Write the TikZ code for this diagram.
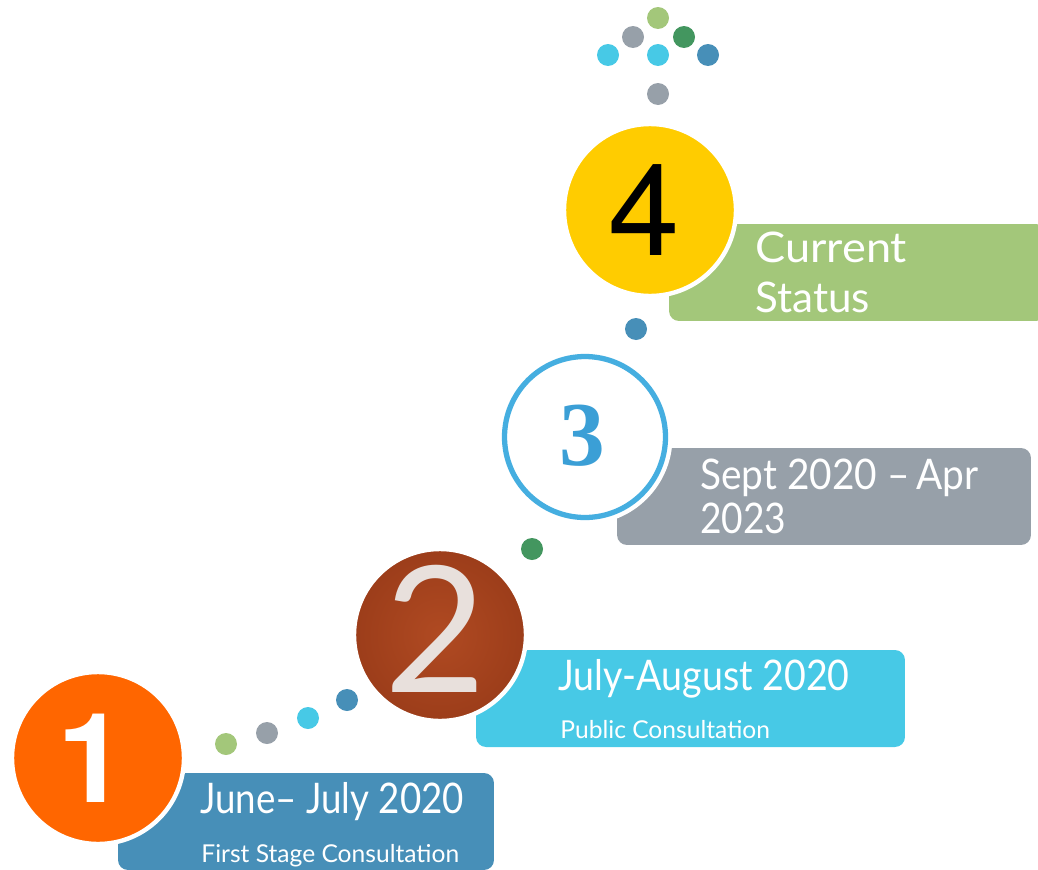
\documentclass[tikz,border=0pt]{standalone}
\usepackage{fontspec}
\setmainfont{Lato}
\newfontfamily\digitsans{TeX Gyre Heros}
\newfontfamily\digitserif{Liberation Serif}
\definecolor{stepblue}{HTML}{478FB8}
\definecolor{stepcyan}{HTML}{47C9E6}
\definecolor{stepgrey}{HTML}{97A0A9}
\definecolor{stepgreen}{HTML}{A3C77A}
\definecolor{darkgreen}{HTML}{43965F}
\definecolor{orange1}{HTML}{FF6600}
\definecolor{brown2}{HTML}{B04A22}
\definecolor{brown2dark}{HTML}{9C3D1A}
\definecolor{ring3}{HTML}{45AEE0}
\definecolor{digit3}{HTML}{3B9FD6}
\definecolor{yellow4}{HTML}{FFCC00}
\definecolor{digit2}{HTML}{E8E0DC}
\newcommand{\narrow}[2]{\scalebox{#1}[1]{#2}}

\begin{document}
\begin{tikzpicture}[x=0.02cm,y=-0.02cm,
  dot/.style={circle,inner sep=0pt,minimum size=0.44cm},
  band/.style={rounded corners=0.2cm,inner sep=0pt,minimum height=1.94cm},
  stage/.style={circle,inner sep=0pt,minimum size=3.44cm,draw=white,line width=2.5pt},
  big/.style={anchor=base west,inner sep=0pt,text=white,font=\fontsize{24}{28}\selectfont},
  small/.style={anchor=base west,inner sep=0pt,text=white,font=\fontsize{14}{16}\selectfont}]
\useasboundingbox (0,0) rectangle (1038,869);
\clip (0,0) rectangle (1038,869);

\node[band,fill=stepblue,minimum width=7.52cm] (b1) at (306,821.5) {};
\node[band,fill=stepcyan,minimum width=8.58cm] (b2) at (690.5,698.5) {};
\node[band,fill=stepgrey,minimum width=8.28cm] (b3) at (824,496.5) {};
\node[band,fill=stepgreen,minimum width=7.54cm] (b4) at (857.5,272.5) {}; % runs off the right edge

\node[big] (t1) at (200,813) {\narrow{0.87}{June– July 2020}};
\node[small] (s1) at (201,862) {First Stage Consultation};
\node[big] (t2) at (558,690) {\narrow{0.89}{July-August 2020}};
\node[small] (s2) at (560,738) {Public Consultation};
\node[big] (t3) at (700,489) {\narrow{0.92}{Sept 2020 –\,Apr}};
\node[big] (t3b) at (700,533) {\narrow{0.88}{2023}};
\node[big] (t4) at (755,262) {\narrow{1.07}{Current}};
\node[big] (t4b) at (755,312) {Status};

% dots between the stages
\node[dot,fill=stepgreen] (d1) at (226,744) {};
\node[dot,fill=stepgrey] (d2) at (267,733) {};
\node[dot,fill=stepcyan] (d3) at (308,718) {};
\node[dot,fill=stepblue] (d4) at (347,700) {};
\node[dot,fill=darkgreen] (d5) at (532,549) {};
\node[dot,fill=stepblue] (d6) at (636,329) {};
% arrow of dots on top
\node[dot,fill=stepgrey] (a1) at (658,94) {};
\node[dot,fill=stepcyan] (a2) at (608,55) {};
\node[dot,fill=stepcyan] (a3) at (658,55) {};
\node[dot,fill=stepblue] (a4) at (708,55) {};
\node[dot,fill=stepgrey] (a5) at (633,37) {};
\node[dot,fill=darkgreen] (a6) at (684,37) {};
\node[dot,fill=stepgreen] (a7) at (658,18) {};

\node[stage,fill=orange1] (c1) at (98,758) {};
\node[text=white,font=\digitsans\bfseries\fontsize{71}{71}\selectfont] (n1) at (92,758) {1};
\node[stage,inner color=brown2,outer color=brown2dark] (c2) at (440,635) {};
\node[text=digit2,font=\fontsize{100}{100}\selectfont] (n2) at (435,629) {2};
\node[stage,fill=white,draw=ring3,line width=3pt,minimum size=3.22cm,
  preaction={draw=white,line width=8pt}] (c3) at (585,437) {};
\node[text=digit3,font=\digitserif\bfseries\fontsize{52}{52}\selectfont] (n3) at (582,436) {3};
\node[stage,fill=yellow4] (c4) at (650,210) {};
\node[text=black,font=\digitsans\fontsize{73}{73}\selectfont] (n4) at (644,210) {4};
\end{tikzpicture}
\end{document}
